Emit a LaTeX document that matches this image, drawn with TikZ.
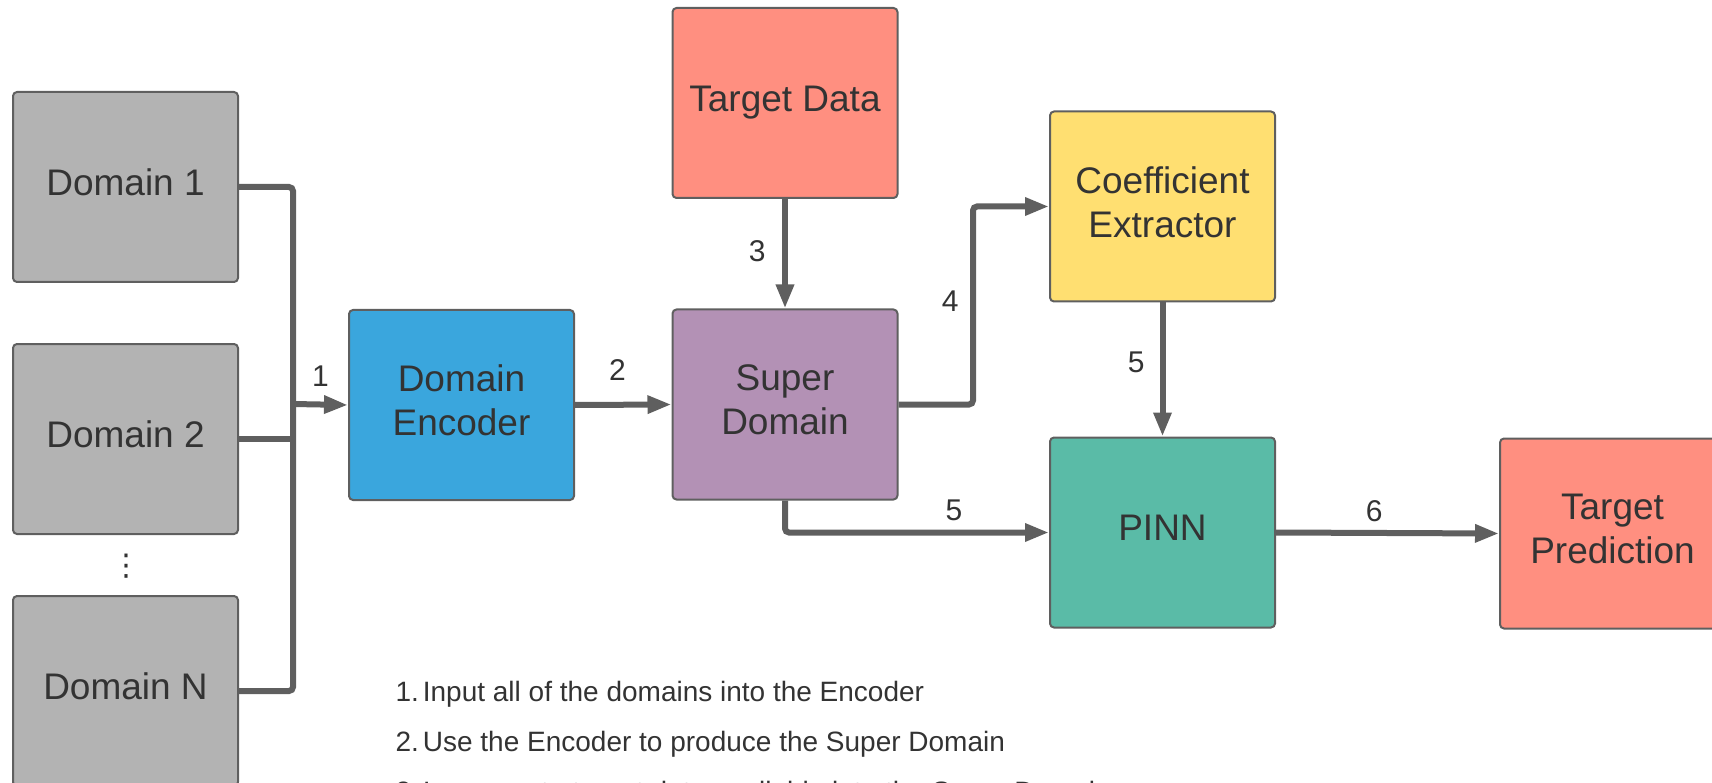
\documentclass[tikz,border=0pt]{standalone}
\usepackage{fontspec}
\setmainfont{Liberation Sans}
\newfontfamily\symbolfont{DejaVu Sans}
\usepackage{tikz}
\usetikzlibrary{arrows.meta}
\definecolor{linegray}{HTML}{5F5F5F}
\definecolor{textgray}{HTML}{333333}
\definecolor{domgray}{HTML}{B3B3B3}
\definecolor{encblue}{HTML}{3AA6DD}
\definecolor{superpurple}{HTML}{B391B5}
\definecolor{targetred}{HTML}{FF8F80}
\definecolor{coefyellow}{HTML}{FFDF71}
\definecolor{pinngreen}{HTML}{5ABBA7}
\tikzstyle{block} = [draw=linegray, line width=2pt, text=textgray,
    rectangle, rounded corners=4pt, minimum width=225pt, minimum height=190pt,
    align=center, text depth=9pt, font=\fontsize{37}{44}\selectfont]
\tikzstyle{link} = [draw=linegray, line width=6pt, rounded corners=4pt]
\tikzstyle{arrow} = [link, -{Triangle[length=24pt, width=17pt]}]
\tikzstyle{steplabel} = [text=textgray, font=\fontsize{30}{36}\selectfont]
\tikzstyle{notetext} = [text=textgray, anchor=west, font=\fontsize{28}{33}\selectfont]

\begin{document}
\begin{tikzpicture}[x=1pt, y=-1pt]
                \useasboundingbox (0,0) rectangle (1712,783);
                \node [block, fill=domgray] (dom1) at (125.5,187) {Domain 1};
                \node [block, fill=domgray] (dom2) at (125.5,439) {Domain 2};
                \node [block, fill=domgray] (domN) at (125.5,691) {Domain N};
                \node [text=textgray, font=\symbolfont\fontsize{30}{36}\selectfont] (dots) at (126,566) {⋮};
                \node [block, fill=encblue] (enc) at (461.5,405) {Domain\\Encoder};
                \node [block, fill=targetred] (tdata) at (785,103) {Target Data};
                \node [block, fill=superpurple] (super) at (785,404.5) {Super\\Domain};
                \node [block, fill=coefyellow] (coef) at (1162.5,206.5) {Coefficient\\Extractor};
                \node [block, fill=pinngreen] (pinn) at (1162.5,532.5) {PINN};
                \node [block, fill=targetred] (tpred) at (1612.5,533.5) {Target\\Prediction};

                \coordinate (bus) at (293,404);
                \coordinate (bend4) at (973,206.5);
                \draw [link] (dom1.east) -| (bus);
                \draw [link] (domN.east) -| (bus);
                \draw [link] (dom2.east) -- (dom2.east -| bus);
                \draw [arrow] (bus) -- node [steplabel, above=12pt] {1} (enc.west);
                \draw [arrow] (enc.east) -- node [steplabel, pos=0.44, above=18pt] {2} (super.west);
                \draw [arrow] (tdata.south) -- node [steplabel, pos=0.48, left=13pt] {3} (super.north);
                \draw [arrow] (super.east) -| node [steplabel, pos=0.76, left=8pt] {4} (bend4) -- (coef.west);
                \draw [arrow] (coef.south) -- node [steplabel, pos=0.45, left=11.5pt] {5} (pinn.north);
                \draw [arrow] (super.south) |- node [steplabel, pos=0.82, above=5pt] {5} (pinn.west);
                \draw [arrow] (pinn.east) -- node [steplabel, pos=0.44, above=5pt] {6} (tpred.west);

                \node [notetext] (note1) at (392,694) {1.\hspace{4pt}Input all of the domains into the Encoder};
                \node [notetext] (note2) at (392,744) {2.\hspace{4pt}Use the Encoder to produce the Super Domain};
                \node [notetext] (note3) at (392,794) {3.\hspace{4pt}Incorporate target data available into the Super Domain};
            \end{tikzpicture}
\end{document}
